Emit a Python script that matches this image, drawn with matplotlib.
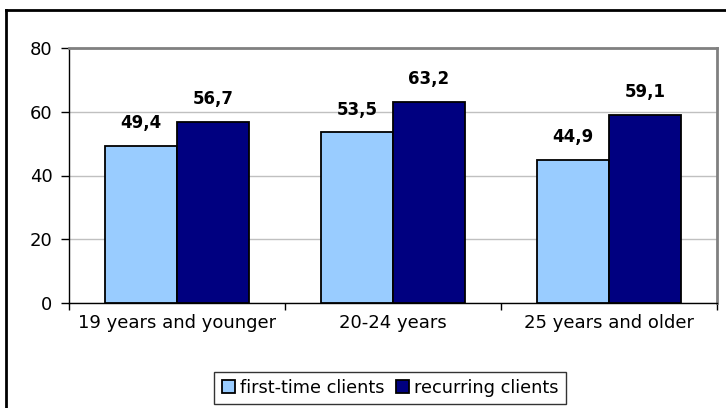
import matplotlib
matplotlib.use("Agg")
import matplotlib.pyplot as plt
from matplotlib.lines import Line2D
from matplotlib.patches import Patch
import numpy as np

categories = ["19 years and younger", "20-24 years", "25 years and older"]
first_time = [49.4, 53.5, 44.9]
recurring = [56.7, 63.2, 59.1]
series_names = ["first-time clients", "recurring clients"]
yticks = [0, 20, 40, 60, 80]

plt.rcParams['font.family'] = ['DejaVu Sans']
FS_TICK = 13
FS_LEG = 12.8
FS_VAL = 12

W, H = 726, 408
fig = plt.figure(figsize=(W / 100, H / 100), dpi=100)
ax = fig.add_axes([69 / W, 1 - 303 / H, (717 - 69) / W, (303 - 48) / H])

x = np.arange(len(categories))
bw = 72 / 216
c1, c2 = "#99CCFF", "#000080"
b1 = ax.bar(x - bw / 2, first_time, bw, color=c1, edgecolor="black", linewidth=1.3, zorder=3)
b2 = ax.bar(x + bw / 2, recurring, bw, color=c2, edgecolor="black", linewidth=1.3, zorder=3)

def fmt(v):
    return f"{v:.1f}".replace(".", ",")

for bars, vals in ((b1, first_time), (b2, recurring)):
    for r, v in zip(bars, vals):
        ax.annotate(fmt(v), (r.get_x() + r.get_width() / 2, v), xytext=(0, 10),
                    textcoords="offset points", ha="center", va="bottom",
                    fontsize=FS_VAL, fontweight="bold")

ax.set_xlim(-0.5, len(categories) - 0.5)
ax.set_ylim(0, 80)
ax.set_yticks(yticks)
ax.set_yticklabels([str(t) for t in yticks], fontsize=FS_TICK)
ax.yaxis.grid(True, color="#C0C0C0", linewidth=1, zorder=0)
ax.set_axisbelow(True)

ax.set_xticks(x)
ax.set_xticklabels(categories, fontsize=FS_TICK)
ax.set_xticks(np.arange(len(categories) + 1) - 0.5, minor=True)
ax.tick_params(axis="x", which="major", length=0, pad=8)
ax.tick_params(axis="x", which="minor", length=5, width=1, direction="out")
ax.tick_params(axis="y", length=6, width=1, direction="out", pad=6)

for s in ("top", "right"):
    ax.spines[s].set_color("#808080")
    ax.spines[s].set_linewidth(2)
for s in ("left", "bottom"):
    ax.spines[s].set_color("black")
    ax.spines[s].set_linewidth(1)

handles = [Patch(facecolor=c1, edgecolor="black", linewidth=1.3),
           Patch(facecolor=c2, edgecolor="black", linewidth=1.3)]
leg = fig.legend(handles, series_names, loc="center", bbox_to_anchor=(390 / W, 1 - 388 / H),
                 ncol=2, fontsize=FS_LEG, frameon=True, fancybox=False, handlelength=0.73,
                 handleheight=0.73, handletextpad=0.28, columnspacing=0.67, borderpad=0.4,
                 borderaxespad=0)
leg.get_frame().set_edgecolor("black")
leg.get_frame().set_linewidth(1)

# outer chart frame (left and top edges visible)
fx = 6 / W
fy = 1 - 10 / H
fig.add_artist(Line2D([fx, fx], [0, fy], transform=fig.transFigure, color="black", linewidth=2))
fig.add_artist(Line2D([fx, 1], [fy, fy], transform=fig.transFigure, color="black", linewidth=2))

fig.savefig("out.png", dpi=100)
